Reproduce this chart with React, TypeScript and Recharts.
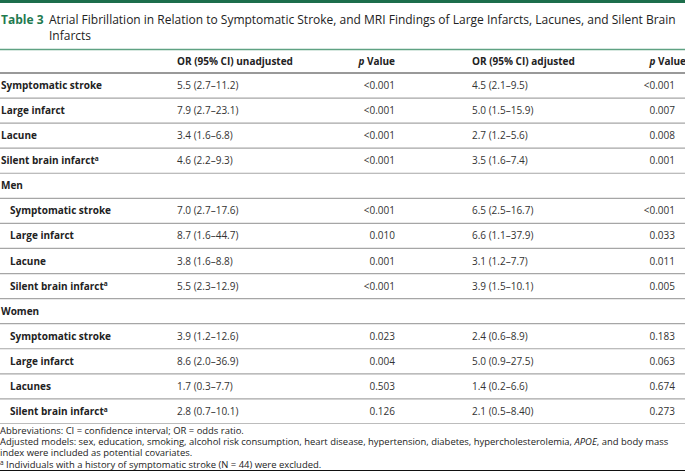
import React from "react";
import { BarChart, Bar, XAxis, YAxis } from "recharts";

const headers = ["", "OR (95% CI) unadjusted", "p Value", "OR (95% CI) adjusted", "p Value"];

const rowLabels = [
  "Symptomatic stroke",
  "Large infarct",
  "Lacune",
  "Silent brain infarct",
  "Men",
  "Symptomatic stroke",
  "Large infarct",
  "Lacune",
  "Silent brain infarct",
  "Women",
  "Symptomatic stroke",
  "Large infarct",
  "Lacunes",
  "Silent brain infarct",
];

// main = whole sample, group = sex heading, sub = indented row under a group
const rowKinds = ["main", "main", "main", "main", "group", "sub", "sub", "sub", "sub", "group", "sub", "sub", "sub", "sub"];

const rowNotes = ["", "", "", "a", "", "", "", "", "a", "", "", "", "", "a"];

const orUnadjusted = [
  "5.5 (2.7–11.2)",
  "7.9 (2.7–23.1)",
  "3.4 (1.6–6.8)",
  "4.6 (2.2–9.3)",
  "",
  "7.0 (2.7–17.6)",
  "8.7 (1.6–44.7)",
  "3.8 (1.6–8.8)",
  "5.5 (2.3–12.9)",
  "",
  "3.9 (1.2–12.6)",
  "8.6 (2.0–36.9)",
  "1.7 (0.3–7.7)",
  "2.8 (0.7–10.1)",
];

const pUnadjusted = ["<0.001", "<0.001", "<0.001", "<0.001", "", "<0.001", "0.010", "0.001", "<0.001", "", "0.023", "0.004", "0.503", "0.126"];

const orAdjusted = [
  "4.5 (2.1–9.5)",
  "5.0 (1.5–15.9)",
  "2.7 (1.2–5.6)",
  "3.5 (1.6–7.4)",
  "",
  "6.5 (2.5–16.7)",
  "6.6 (1.1–37.9)",
  "3.1 (1.2–7.7)",
  "3.9 (1.5–10.1)",
  "",
  "2.4 (0.6–8.9)",
  "5.0 (0.9–27.5)",
  "1.4 (0.2–6.6)",
  "2.1 (0.5–8.40)",
];

const pAdjusted = ["<0.001", "0.007", "0.008", "0.001", "", "<0.001", "0.033", "0.011", "0.005", "", "0.183", "0.063", "0.674", "0.273"];

const rows = [
  { id: "h", kind: "header", label: headers[0], note: "", or1: headers[1], p1: headers[2], or2: headers[3], p2: headers[4], span: 1 },
  ...rowLabels.map((label, i) => ({
    id: String(i),
    kind: rowKinds[i],
    label,
    note: rowNotes[i],
    or1: orUnadjusted[i],
    p1: pUnadjusted[i],
    or2: orAdjusted[i],
    p2: pAdjusted[i],
    span: 1,
  })),
];

const FONT = '"Open Sans", sans-serif';

function PHead({ x, y }: { x: number; y: number }) {
  return (
    <text x={x} y={y} dy="0.35em" textAnchor="end" fontSize={10} fontWeight={700} fill="#222" fontFamily={FONT}>
      <tspan fontStyle="italic">p</tspan> Value
    </text>
  );
}

function RowShape(props: any) {
  const { x, y, width, height } = props;
  const r = props.payload ?? props;
  const cy = y + height / 2;
  const isHeader = r.kind === "header";
  const labelX = r.kind === "sub" ? x + 10 : x + 1;
  return (
    <g>
      {isHeader && <line x1={x} x2={x + width} y1={y + 1.5} y2={y + 1.5} stroke="#5fa283" strokeWidth={1.3} />}
      <line
        x1={x}
        x2={x + width}
        y1={y + height}
        y2={y + height}
        stroke={isHeader ? "#777" : "#a6a6a6"}
        strokeWidth={isHeader ? 1.4 : 1.2}
      />
      {isHeader ? (
        <>
          <text x={x + 177} y={cy + 0.5} dy="0.35em" fontSize={10} fontWeight={700} fill="#222" fontFamily={FONT}>
            {r.or1}
          </text>
          <PHead x={x + 395} y={cy + 0.5} />
          <text x={x + 472} y={cy + 0.5} dy="0.35em" fontSize={10} fontWeight={700} fill="#222" fontFamily={FONT}>
            {r.or2}
          </text>
          <PHead x={x + 686} y={cy + 0.5} />
        </>
      ) : (
        <>
          <text x={labelX} y={cy} dy="0.35em" fontSize={10} fontWeight={700} fill="#222" fontFamily={FONT}>
            {r.label}
            {r.note && (
              <tspan fontSize={6.5} dy="-0.5em">
                {r.note}
              </tspan>
            )}
          </text>
          <text x={x + 177} y={cy} dy="0.35em" fontSize={10} fill="#333" fontFamily={FONT}>
            {r.or1}
          </text>
          <text x={x + 395} y={cy} dy="0.35em" textAnchor="end" fontSize={10} fill="#333" fontFamily={FONT}>
            {r.p1}
          </text>
          <text x={x + 472} y={cy} dy="0.35em" fontSize={10} fill="#333" fontFamily={FONT}>
            {r.or2}
          </text>
          <text x={x + 675} y={cy} dy="0.35em" textAnchor="end" fontSize={10} fill="#333" fontFamily={FONT}>
            {r.p2}
          </text>
        </>
      )}
    </g>
  );
}

export default function App() {
  return (
    <div
      style={{
        position: "absolute",
        left: 0,
        top: 0,
        width: 685,
        height: 472,
        background: "#fff",
        fontFamily: FONT,
        overflow: "hidden",
      }}
    >
      <div style={{ height: 3, background: "#1d6e4c" }} />
      <div style={{ display: "flex", paddingTop: 9, fontSize: 12, lineHeight: "16px", color: "#222", whiteSpace: "nowrap" }}>
        <span style={{ fontWeight: 700, color: "#1f7a50", width: 48, flex: "none", paddingLeft: 1 }}>Table 3</span>
        <span>
          Atrial Fibrillation in Relation to Symptomatic Stroke, and MRI Findings of Large Infarcts, Lacunes, and Silent Brain
          <br />
          Infarcts
        </span>
      </div>
      <div style={{ position: "absolute", left: 0, top: 48 }}>
        <BarChart
          width={685}
          height={376}
          data={rows}
          layout="vertical"
          margin={{ top: 0, right: 0, bottom: 0, left: 0 }}
          barCategoryGap={0}
        >
          <XAxis type="number" hide domain={[0, 1]} />
          <YAxis type="category" dataKey="id" hide />
          <Bar dataKey="span" isAnimationActive={false} shape={<RowShape />} />
        </BarChart>
      </div>
      <div
        style={{
          position: "absolute",
          left: 0,
          top: 425,
          width: 685,
          fontSize: 9.45,
          lineHeight: "11.2px",
          color: "#222",
          whiteSpace: "nowrap",
        }}
      >
        <div>Abbreviations: CI = confidence interval; OR = odds ratio.</div>
        <div>
          Adjusted models: sex, education, smoking, alcohol risk consumption, heart disease, hypertension, diabetes,
          hypercholesterolemia, <i>APOE</i>, and body mass
        </div>
        <div>index were included as potential covariates.</div>
        <div>
          <span style={{ fontSize: 6.5, verticalAlign: "top", lineHeight: "8px" }}>a</span> Individuals with a history of
          symptomatic stroke (N = 44) were excluded.
        </div>
      </div>
      <div style={{ position: "absolute", left: 0, top: 469.5, width: 685, height: 1.5, background: "#111" }} />
    </div>
  );
}
